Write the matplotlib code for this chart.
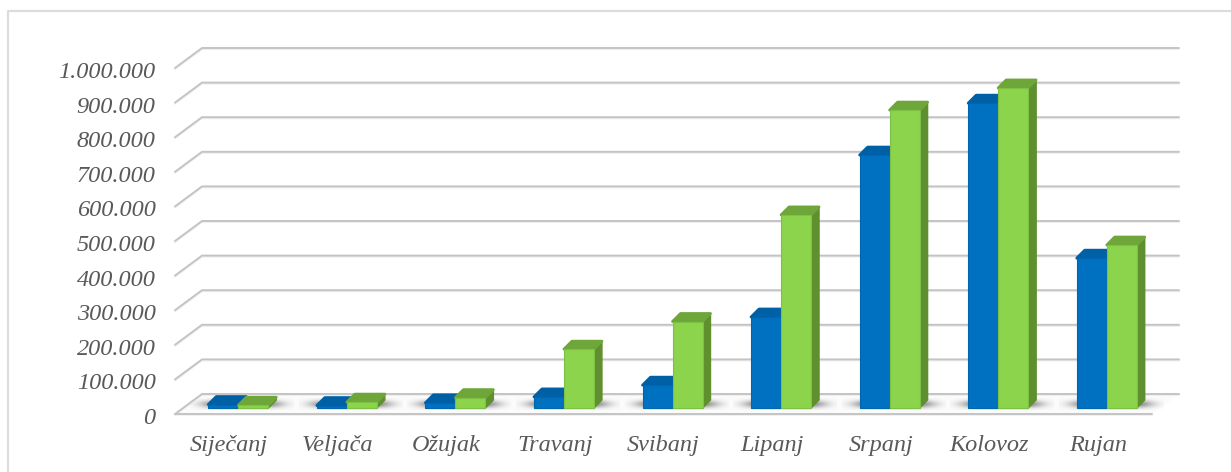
import matplotlib
matplotlib.use('Agg')
import matplotlib.pyplot as plt
import matplotlib.transforms as mtransforms
import numpy as np
from matplotlib.patches import Polygon, Rectangle

months = ['Siječanj', 'Veljača', 'Ožujak', 'Travanj', 'Svibanj', 'Lipanj', 'Srpanj', 'Kolovoz', 'Rujan']
series_blue = [10000, 7000, 15000, 32000, 66000, 263000, 731000, 881000, 433000]
series_green = [8000, 17000, 30000, 170000, 250000, 558000, 861000, 925000, 471000]
y_ticks = [0, 100000, 200000, 300000, 400000, 500000, 600000, 700000, 800000, 900000, 1000000]

W, H = 1231, 472
fig = plt.figure(figsize=(W / 100, H / 100), dpi=100)
# frame is cut off by the picture on the right and at the bottom
fig.add_artist(plt.Line2D([8 / W, 8 / W, 1], [0, 1 - 11 / H, 1 - 11 / H], color='#dcdcdc', lw=1.6))

ax = fig.add_axes([175 / W, (H - 414) / H, 977 / W, 346 / H])
ax.set_xlim(-0.5, 8.5)
ax.set_ylim(0, 1000000)
ax.patch.set_alpha(0)
for s in ax.spines.values():
    s.set_visible(False)

# pixel sizes in data units
px_x = 9 / 977
px_y = 1000000 / 346
wall_dx, wall_dy = 27 * px_x, 20 * px_y
bar_w = 30 * px_x
bar_dx, bar_dy = 8 * px_x, 8 * px_y
shift_x, base_y = 9 * px_x, 6 * px_y


def grid_line(xs, ys):
    ax.plot(xs, [y - 1.2 * px_y for y in ys], color='#efefef', lw=1.2, clip_on=False, zorder=1)
    ax.plot(xs, ys, color='#c4c4c4', lw=1.4, clip_on=False, zorder=1.1, solid_capstyle='round')


# floor
ax.add_patch(Polygon([(-0.5, 0), (8.5, 0), (8.5 + wall_dx, wall_dy), (-0.5 + wall_dx, wall_dy)],
                     closed=True, facecolor='#fbfbfb', edgecolor='none', clip_on=False, zorder=0.5))
grid_line([-0.5, 8.5], [0, 0])

for v in y_ticks:
    grid_line([-0.5, -0.5 + wall_dx, 8.5 + wall_dx], [v, v + wall_dy, v + wall_dy])

# shadows on the floor
gx = np.linspace(-1, 1, 120)
gy = np.linspace(-1, 1, 24)
xx, yy = np.meshgrid(gx, gy)
shade = np.zeros((24, 120, 4))
shade[..., :3] = 0.3
shade[..., 3] = 0.85 * np.exp(-(xx ** 4) * 3 - (yy ** 2) * 2.5)
for i in range(len(months)):
    c = i + shift_x
    ax.imshow(shade, extent=(c - 52 * px_x + 4 * px_x, c + 52 * px_x + 4 * px_x,
                             base_y - 2 * px_y, base_y + 10 * px_y),
              aspect='auto', interpolation='bilinear', zorder=0.8, clip_on=False)
ax.set_xlim(-0.5, 8.5)
ax.set_ylim(0, 1000000)


def bar3d(x0, v, front, edge, top, side, z):
    x1 = x0 + bar_w
    y0, y1 = base_y, base_y + v
    ax.add_patch(Polygon([(x1, y0), (x1 + bar_dx, y0 + bar_dy), (x1 + bar_dx, y1 + bar_dy), (x1, y1)],
                         closed=True, facecolor=side, edgecolor=side, lw=1.0, joinstyle='round',
                         clip_on=False, zorder=z))
    ax.add_patch(Polygon([(x0, y1), (x1, y1), (x1 + bar_dx, y1 + bar_dy), (x0 + bar_dx, y1 + bar_dy)],
                         closed=True, facecolor=top, edgecolor=top, lw=2.0, joinstyle='round',
                         clip_on=False, zorder=z))
    ax.add_patch(Rectangle((x0, y0), bar_w, v, facecolor=front, edgecolor=edge, lw=0.8,
                           clip_on=False, zorder=z + 0.1))


for i, (b, g) in enumerate(zip(series_blue, series_green)):
    c = i + shift_x
    bar3d(c - bar_w, b, '#0070c0', '#0066b0', '#0060a6', '#00508c', 3 + i * 0.01)
    bar3d(c, g, '#8cd44c', '#7cc044', '#6ea63a', '#5f8f2e', 4 + i * 0.01)

ax.set_yticks(y_ticks)
ax.set_yticklabels([f'{v:,}'.replace(',', '.') for v in y_ticks],
                   family='Liberation Serif', style='italic', fontsize=17.5, color='#595959')
ax.set_xticks(range(len(months)))
ax.set_xticklabels(months, family='Liberation Serif', style='italic', fontsize=17.5, color='#595959')
ax.tick_params(axis='y', length=0, pad=14)
ax.tick_params(axis='x', length=0, pad=15)

# labels sit a little lower than their grid lines
down = mtransforms.ScaledTranslation(0, -1.5 / 72, fig.dpi_scale_trans)
for lab in ax.get_yticklabels():
    lab.set_transform(lab.get_transform() + down)

fig.savefig('out.png', dpi=100, facecolor='white')
